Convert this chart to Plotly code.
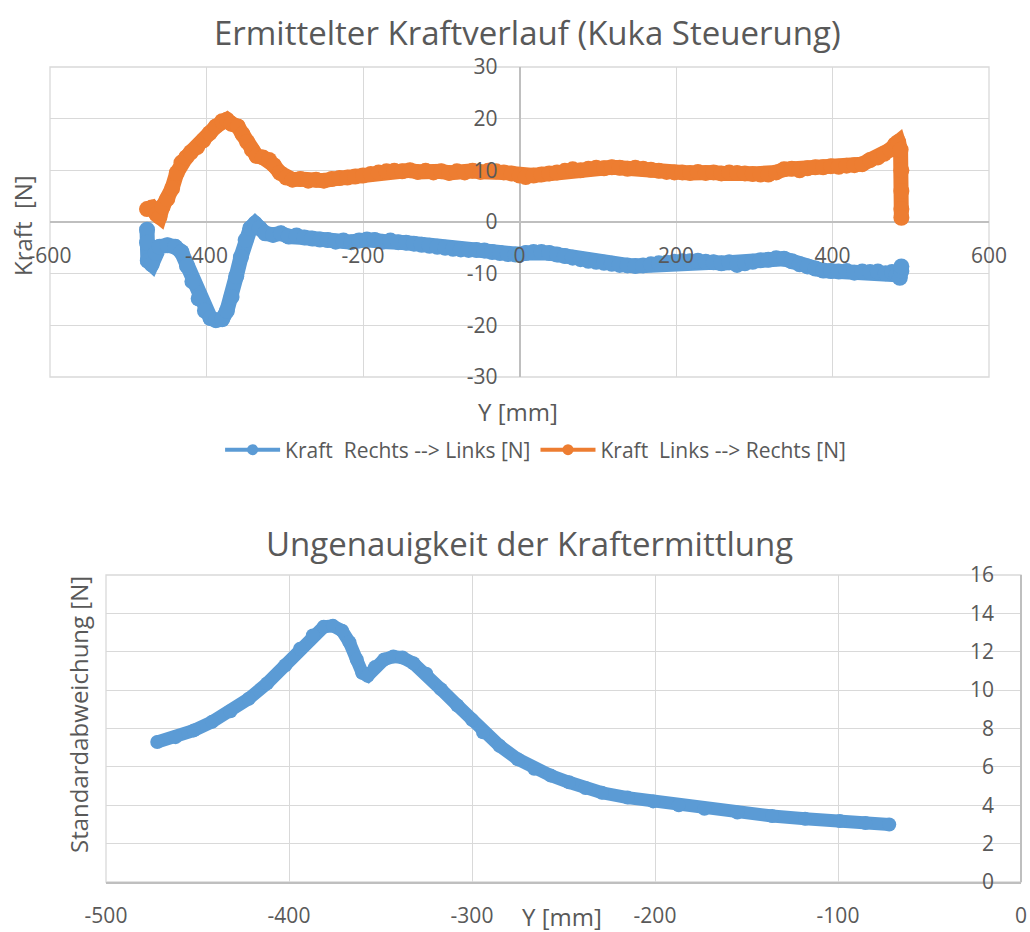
import plotly.graph_objects as go

# ---- Kraftverlauf (Kuka Steuerung) ----
# Kraft Rechts --> Links [N]
r2l_y = [-476, -476, -475, -470, -465, -460, -450, -440, -432, -425, -418, -410, -402, -395,
         -388, -380, -374, -368, -362, -356, -350, -344, -338, -332, -325, -315, -305, -295,
         -285, -275, -265, -255, -245, -235, -225, -215, -205, -195, -185, -175, -165, -155,
         -145, -135, -125, -115, -105, -95, -85, -75, -65, -55, -45, -35, -25, -15, -5, 0,
         8, 18, 28, 38, 48, 58, 68, 78, 88, 98, 108, 118, 128, 138, 148, 158, 168, 178, 188,
         198, 208, 218, 228, 238, 248, 258, 268, 278, 288, 298, 308, 318, 328, 338, 348, 358,
         368, 378, 388, 398, 408, 418, 428, 438, 448, 458, 468, 476, 482, 486, 488, 488]
r2l_f = [-1.5, -4.0, -7.5, -8.2, -6.0, -4.8, -4.5, -4.8, -5.8, -8.5, -11.5, -14.8, -17.2, -18.6,
         -19.0, -18.8, -17.2, -14.5, -10.5, -6.8, -3.5, -1.2, -0.3, -1.2, -2.2, -2.5, -2.2, -2.8,
         -2.6, -3.0, -3.2, -3.4, -3.5, -3.8, -3.6, -3.9, -3.6, -3.4, -3.5, -3.8, -3.6, -3.9,
         -4.0, -4.2, -4.4, -4.6, -4.8, -5.0, -5.2, -5.3, -5.4, -5.4, -5.5, -5.8, -6.0, -6.2, -6.3, -6.3,
         -6.0, -5.8, -5.8, -6.0, -6.3, -6.6, -6.9, -7.2, -7.5, -7.7, -7.9, -8.1, -8.3, -8.4, -8.5, -8.4,
         -8.2, -8.0, -7.9, -7.7, -7.6, -7.6, -7.5, -7.7, -7.8, -8.0, -7.8, -8.3, -8.0, -7.7, -7.4,
         -7.3, -7.0, -7.1, -7.6, -8.2, -8.6, -9.0, -9.4, -9.5, -9.6, -9.5, -9.8, -9.6, -9.7, -9.6,
         -9.9, -9.7, -10.2, -10.8, -9.5, -8.6]

# Kraft Links --> Rechts [N]
l2r_y = [-476, -470, -464, -460, -456, -450, -444, -438, -432, -426, -420, -412, -404, -396,
         -388, -380, -374, -368, -360, -354, -348, -342, -336, -328, -320, -314, -306, -298,
         -290, -280, -270, -260, -250, -240, -230, -220, -210, -200, -190, -180, -170, -160,
         -150, -140, -130, -120, -110, -100, -90, -80, -70, -60, -50, -40, -30, -20, -10, 0,
         8, 18, 28, 38, 48, 58, 68, 78, 88, 98, 108, 118, 128, 138, 148, 158, 168, 178, 188,
         198, 208, 218, 228, 238, 248, 258, 268, 278, 288, 298, 308, 318, 328, 338, 348, 358,
         368, 378, 388, 398, 408, 418, 428, 438, 448, 458, 466, 474, 480, 484, 487, 488, 488,
         488, 488]
l2r_f = [2.5, 2.8, 1.5, 1.0, 3.0, 4.5, 6.5, 9.5, 11.5, 12.5, 13.5, 14.5, 15.8, 17.2,
         18.5, 19.5, 19.8, 19.0, 18.5, 17.0, 15.5, 14.0, 12.8, 12.5, 12.0, 11.0, 9.5, 8.6,
         8.2, 8.3, 8.0, 8.2, 8.0, 8.3, 8.5, 8.6, 8.8, 9.0, 9.3, 9.6, 9.8, 9.9,
         9.8, 10.0, 9.7, 9.9, 9.6, 9.8, 9.5, 9.8, 9.6, 9.9, 9.7, 9.9, 9.8, 9.6, 9.4, 9.0,
         8.7, 9.0, 9.2, 9.4, 9.6, 9.9, 10.2, 10.0, 10.3, 10.5, 10.4, 10.6, 10.5, 10.3, 10.5,
         10.3, 10.1, 9.9, 9.7, 9.6, 9.6, 9.5, 9.7, 9.5, 9.6, 9.4, 9.6, 9.5, 9.4, 9.3, 9.2,
         9.2, 9.6, 10.2, 10.3, 10.0, 10.4, 10.6, 10.6, 10.8, 10.7, 10.9, 11.0, 11.2, 12.0,
         12.5, 13.2, 14.0, 15.0, 15.5, 14.0, 10.0, 6.0, 2.5, 0.8]

# ---- Ungenauigkeit der Kraftermittlung ----
std_y = [-472, -462, -452, -442, -432, -422, -412, -402, -394, -387, -381, -376, -371, -367,
         -363, -360, -357, -353, -348, -343, -338, -332, -325, -317, -308, -300, -294, -285,
         -275, -266, -257, -247, -238, -229, -215, -201, -187, -173, -155, -136, -118, -99,
         -85, -72]
std_n = [7.3, 7.55, 7.9, 8.35, 8.9, 9.55, 10.35, 11.3, 12.15, 12.85, 13.3, 13.35, 13.1, 12.5,
         11.6, 10.9, 10.75, 11.2, 11.6, 11.75, 11.7, 11.4, 10.85, 10.05, 9.2, 8.45, 7.8, 7.1,
         6.4, 5.9, 5.55, 5.2, 4.9, 4.65, 4.4, 4.2, 4.0, 3.82, 3.62, 3.44, 3.3, 3.18,
         3.07, 3.0]

legend_names = ["Kraft\u00a0\u00a0Rechts --> Links [N]", "Kraft\u00a0\u00a0Links --> Rechts [N]"]

# tick values / labels (plain hyphen as minus sign)
top_x_ticks = [-600, -400, -200, 0, 200, 400, 600]
top_y_ticks = [-30, -20, -10, 0, 10, 20, 30]
bot_x_ticks = [-500, -400, -300, -200, -100, 0]
bot_y_ticks = [0, 2, 4, 6, 8, 10, 12, 14, 16]

W, H = 1030, 932
BLUE = "#5b9bd5"
ORANGE = "#ed7d31"
GRID = "#d9d9d9"
AXIS = "#bfbfbf"
TXT = "#595959"
FONT = "Open Sans"


def px(xp):
    return xp / W


def py(yp):
    return 1 - yp / H


def labels(vals):
    return [str(v) for v in vals]


fig = go.Figure()

# thick data bands (legend entries are drawn with a slimmer style below)
for xs, ys, col, grp in [(r2l_y, r2l_f, BLUE, "r2l"), (l2r_y, l2r_f, ORANGE, "l2r")]:
    fig.add_trace(go.Scatter(
        x=xs, y=ys, mode="lines+markers", showlegend=False, legendgroup=grp,
        line=dict(color=col, width=15), marker=dict(color=col, size=16),
        xaxis="x", yaxis="y"))
for name, col, grp in [(legend_names[0], BLUE, "r2l"), (legend_names[1], ORANGE, "l2r")]:
    fig.add_trace(go.Scatter(
        x=[None], y=[None], mode="lines+markers", name=name, legendgroup=grp,
        line=dict(color=col, width=4), marker=dict(color=col, size=11),
        xaxis="x", yaxis="y"))

fig.add_trace(go.Scatter(
    x=std_y, y=std_n, mode="lines+markers", showlegend=False,
    line=dict(color=BLUE, width=13), marker=dict(color=BLUE, size=14),
    xaxis="x2", yaxis="y2"))

tick_font = dict(family=FONT, size=21, color=TXT)
title_font = dict(family=FONT, size=33, color=TXT)
axt_font = dict(family=FONT, size=24, color=TXT)

fig.update_layout(
    template="none",
    width=W, height=H,
    margin=dict(l=0, r=0, t=0, b=0, autoexpand=False),
    paper_bgcolor="white", plot_bgcolor="white",
    showlegend=True,
    legend=dict(orientation="h", x=0.52, xanchor="center", y=py(450), yanchor="middle",
                font=dict(family=FONT, size=21, color=TXT), itemwidth=55,
                bgcolor="rgba(0,0,0,0)"),
    xaxis=dict(domain=[px(50), px(989)], range=[-600, 600],
               tickmode="array", tickvals=top_x_ticks, ticktext=labels(top_x_ticks),
               anchor="free", position=py(223), automargin=False,
               showgrid=True, gridcolor=GRID, gridwidth=1.3,
               zeroline=True, zerolinecolor=AXIS, zerolinewidth=1.5,
               showline=False, ticks="", ticklabelstandoff=18, tickfont=tick_font),
    yaxis=dict(domain=[py(377), py(67)], range=[-30, 30],
               tickmode="array", tickvals=top_y_ticks, ticktext=labels(top_y_ticks),
               anchor="free", position=px(519.5), automargin=False,
               showgrid=True, gridcolor=GRID, gridwidth=1.3,
               zeroline=True, zerolinecolor=AXIS, zerolinewidth=1.5,
               showline=False, ticks="", ticklabelstandoff=22, tickfont=tick_font),
    xaxis2=dict(domain=[px(106), px(1021)], range=[-500, 0],
                tickmode="array", tickvals=bot_x_ticks, ticktext=labels(bot_x_ticks),
                anchor="y2", automargin=False, showgrid=True, gridcolor=GRID, gridwidth=1.3,
                zeroline=False, showline=True, linecolor=AXIS, linewidth=1.5,
                ticks="", ticklabelstandoff=14, tickfont=tick_font),
    yaxis2=dict(domain=[py(882), py(575)], range=[0, 16],
                tickmode="array", tickvals=bot_y_ticks, ticktext=labels(bot_y_ticks),
                anchor="free", position=px(1021), side="left", automargin=False,
                showgrid=True, gridcolor=GRID, gridwidth=1.3,
                zeroline=False, showline=True, linecolor=AXIS, linewidth=1.5,
                ticks="", ticklabelstandoff=22, tickfont=tick_font),
    shapes=[
        dict(type="rect", xref="x domain", yref="y domain", x0=0, x1=1, y0=0, y1=1,
             line=dict(color=GRID, width=1.3), layer="below"),
        dict(type="rect", xref="x2 domain", yref="y2 domain", x0=0, x1=1, y0=0, y1=1,
             line=dict(color=GRID, width=1.3), layer="below"),
    ],
)

ann = [
    dict(text="Ermittelter Kraftverlauf (Kuka Steuerung)", x=px(527), y=py(32), font=title_font),
    dict(text="Kraft\u00a0\u00a0[N]", x=px(22), y=py(226), textangle=-90, font=axt_font),
    dict(text="Y [mm]", x=px(518), y=py(411), font=axt_font),
    dict(text="Ungenauigkeit der Kraftermittlung", x=px(529), y=py(543), font=title_font),
    dict(text="Standardabweichung [N]", x=px(78), y=py(715), textangle=-90, font=axt_font),
    dict(text="Y [mm]", x=px(562), y=py(916), font=axt_font),
]
for a in ann:
    a.update(xref="paper", yref="paper", xanchor="center", yanchor="middle", showarrow=False)
fig.update_layout(annotations=ann)

fig.write_html("out.html")
